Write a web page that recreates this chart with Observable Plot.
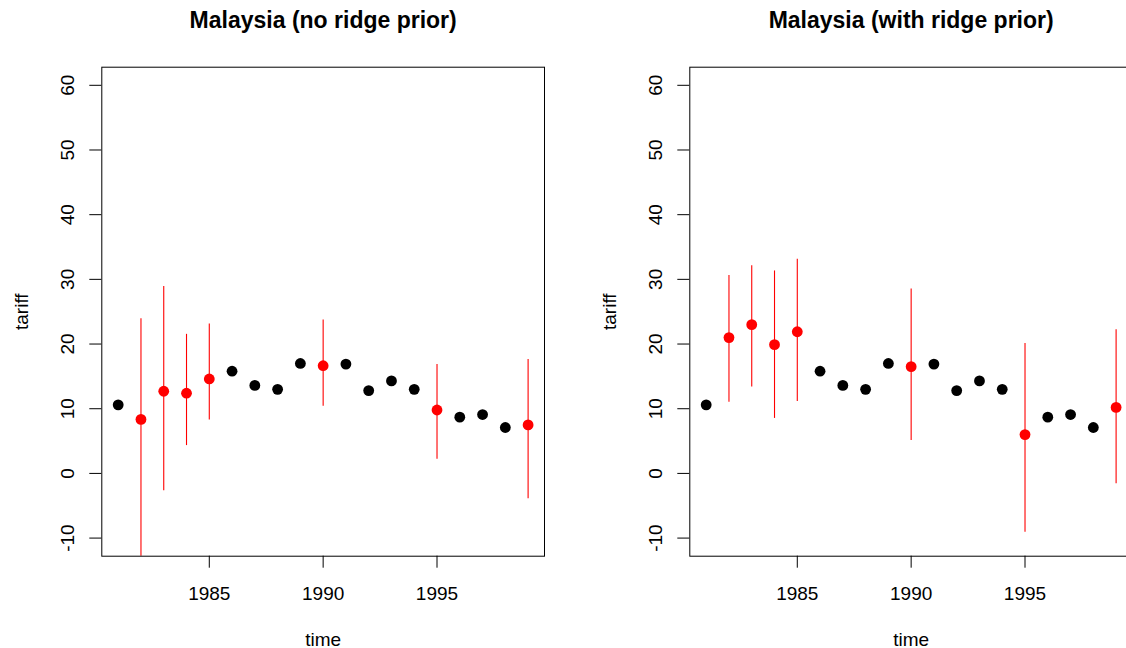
<!DOCTYPE html>
<html>
<head>
<meta charset="utf-8">
<script src="https://cdn.jsdelivr.net/npm/d3@7"></script>
<script src="https://cdn.jsdelivr.net/npm/@observablehq/plot@0.6"></script>
<style>
  html, body { margin: 0; padding: 0; background: white; overflow: hidden; }
  #wrap { display: flex; width: 1126px; height: 648px; overflow: hidden; }
  #wrap svg { flex: none; max-width: none; }
</style>
</head>
<body>
<div id="wrap"></div>
<script>
// Observed (black) tariffs
const obsYears  = [1981, 1986, 1987, 1988, 1989, 1991, 1992, 1993, 1994, 1996, 1997, 1998];
const obsTariff = [10.6, 15.8, 13.6, 13.0, 17.0, 16.9, 12.8, 14.3, 13.0, 8.7, 9.1, 7.1];

// Imputed (red) years
const impYears = [1982, 1983, 1984, 1985, 1990, 1995, 1999];
// No ridge prior
const noRidgeMean = [8.35, 12.7, 12.4, 14.6, 16.65, 9.8, 7.5];
const noRidgeLo   = [-15.0, -2.7, 4.3, 8.25, 10.4, 2.2, -3.9];
const noRidgeHi   = [23.9, 28.9, 21.5, 23.1, 23.7, 16.85, 17.6];
// With ridge prior
const ridgeMean = [21.0, 23.0, 19.9, 21.9, 16.5, 6.0, 10.2];
const ridgeLo   = [11.0, 13.35, 8.5, 11.1, 5.1, -9.1, -1.6];
const ridgeHi   = [30.6, 32.1, 31.3, 33.1, 28.5, 20.1, 22.2];

const titles = ["Malaysia (no ridge prior)", "Malaysia (with ridge prior)"];
const xLabel = "time";
const yLabel = "tariff";
const xTicks = [1985, 1990, 1995];
const yTicks = [-10, 0, 10, 20, 30, 40, 50, 60];

const observed = obsYears.map((t, i) => ({time: t, tariff: obsTariff[i]}));
function imputed(mean, lo, hi) {
  return impYears.map((t, i) => ({time: t, tariff: mean[i], lo: lo[i], hi: hi[i]}));
}

const FONT = "'Liberation Sans', Arial, Helvetica, sans-serif";

function panel(title, data) {
  return Plot.plot({
    width: 588,
    height: 648,
    marginLeft: 101.3,
    marginRight: 44,
    marginTop: 66.7,
    marginBottom: 92.3,
    style: `font-family: ${FONT}; font-size: 19px; background: white; color: black; max-width: none; flex: none;`,
    x: {domain: [1980.28, 1999.72]},
    y: {domain: [-12.8, 62.8], clamp: true},
    marks: [
      Plot.axisX({ticks: xTicks, tickFormat: d => String(d), tickSize: 12, tickPadding: 18, label: null, fontSize: 19}),
      Plot.axisY({ticks: yTicks, tickFormat: d => String(d), tickSize: 12, tickPadding: 16, tickRotate: -90, label: null, fontSize: 19}),
      Plot.ruleX(data, {x: "time", y1: "lo", y2: "hi", stroke: "#ff0000", strokeWidth: 1.1}),
      Plot.dot(observed, {x: "time", y: "tariff", r: 5.4, fill: "black", stroke: "none"}),
      Plot.dot(data, {x: "time", y: "tariff", r: 5.4, fill: "#ff0000", stroke: "none"}),
      Plot.frame({stroke: "black", strokeWidth: 1}),
      Plot.text([title], {frameAnchor: "top", dy: -39.4, lineAnchor: "bottom", fontWeight: "bold", fontSize: 23, fill: "black"}),
      Plot.text([xLabel], {frameAnchor: "bottom", dy: 89.3, lineAnchor: "bottom", fontSize: 19, fill: "black"}),
      Plot.text([yLabel], {frameAnchor: "left", dx: -74.3, rotate: -90, lineAnchor: "bottom", textAnchor: "middle", fontSize: 19, fill: "black"})
    ]
  });
}

const wrap = document.getElementById("wrap");
wrap.appendChild(panel(titles[0], imputed(noRidgeMean, noRidgeLo, noRidgeHi)));
wrap.appendChild(panel(titles[1], imputed(ridgeMean, ridgeLo, ridgeHi)));
</script>
</body>
</html>
